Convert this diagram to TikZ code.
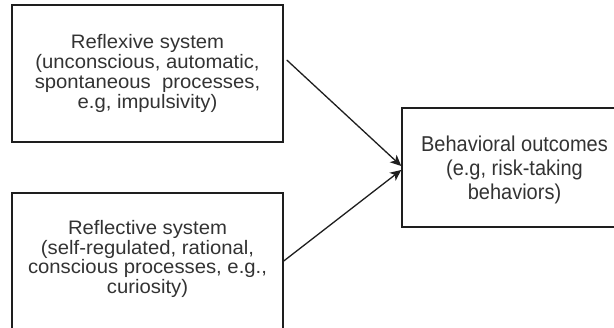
\documentclass[tikz,border=0pt]{standalone}
\usepackage{fontspec}
\setmainfont{Liberation Sans}
\newfontfamily\widesans[FakeStretch=1.04]{Liberation Sans}
\newfontfamily\tallsans[FakeStretch=0.93]{Liberation Sans}
\usetikzlibrary{arrows.meta}
\definecolor{inkline}{HTML}{1E1E1E}
\definecolor{inktext}{HTML}{333333}
\tikzset{
  sysbox/.style={draw=inkline, line width=1.5pt, rectangle, inner sep=0pt,
    align=center, text=inktext},
  leftfont/.style={font=\widesans\fontsize{19.5}{19.7}\selectfont},
  rightfont/.style={font=\tallsans\fontsize{21.5}{24}\selectfont},
  link/.style={draw=inkline, line width=1.3pt,
    -{Stealth[length=11pt, width=10pt, inset=3pt]}}
}
\begin{document}
\begin{tikzpicture}[x=1pt, y=-1pt]
  \useasboundingbox (0,0) rectangle (614,328);
  \clip (0,0) rectangle (614,328);
  \fill[white] (0,0) rectangle (614,328);

  % the two systems on the left
  \node[sysbox, leftfont, minimum width=271pt, minimum height=137pt]
    (reflexive) at (147.5,73.5)
    {Reflexive system\\(unconscious, automatic,\\spontaneous\ \ processes,\\e.g, impulsivity)};

  \node[sysbox, leftfont, minimum width=271pt, minimum height=138pt, text depth=10pt]
    (reflective) at (147.5,262)
    {Reflective system\\(self-regulated, rational,\\conscious processes, e.g.,\\curiosity)};

  % the outcome on the right
  \node[sysbox, rightfont, minimum width=225pt, minimum height=119pt, text depth=-2.5pt]
    (outcome) at (514.5,167.5)
    {Behavioral outcomes\\(e.g, risk-taking\\behaviors)};

  \draw[link] ([xshift=3pt, yshift=13.5pt]reflexive.east) -- ([yshift=1.5pt]outcome.west);
  \draw[link] ([yshift=1pt]reflective.east) -- ([yshift=-2.5pt]outcome.west);
\end{tikzpicture}
\end{document}
